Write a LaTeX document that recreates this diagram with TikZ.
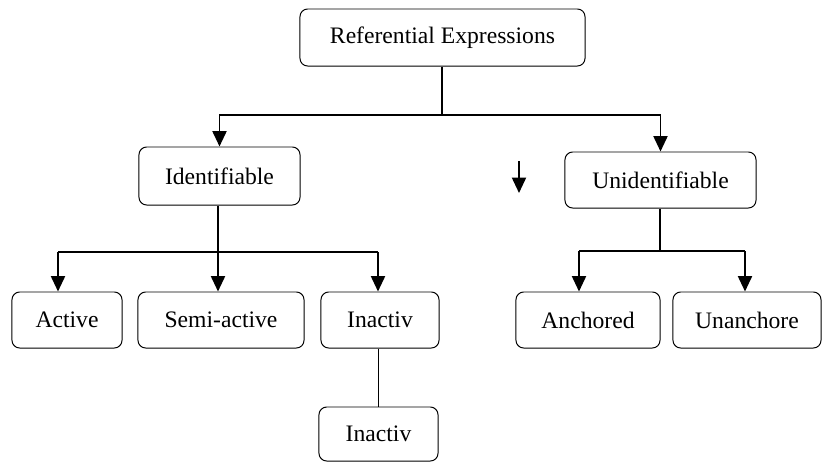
\documentclass[tikz,border=0pt]{standalone}
\usepackage{fontspec}
\setmainfont{Liberation Serif}
\usetikzlibrary{arrows.meta}

\tikzset{
  box/.style={rectangle, rounded corners=5.5pt, draw, line width=0.7pt, inner sep=0pt,
    minimum height=1.4cm, font=\fontsize{16.8}{20}\selectfont},
  bus/.style={line width=1.4pt},
  arr/.style={bus, -{Triangle[length=11pt,width=10pt]}},
}

\begin{document}
\begin{tikzpicture}[x=0.025cm, y=-0.025cm]
        \useasboundingbox (0,0) rectangle (822,462);

        \node[box, minimum width=7.125cm, minimum height=1.425cm] at (442.5,37.5) (REF) {Referential Expressions\hspace{12pt}};
        \node[box, minimum width=4.025cm, minimum height=1.45cm] at (219.5,176) (ID) {Identifiable};
        \node[box, minimum width=4.775cm] at (660.5,180) (UNID) {Unidentifiable};
        \node[box, minimum width=2.75cm] at (67,320) (ACT) {Active};
        \node[box, minimum width=4.15cm] at (221,320) (SEMI) {Semi-active};
        \node[box, minimum width=2.95cm] at (380,320) (INA) {Inactiv};
        \node[box, minimum width=2.975cm, minimum height=1.35cm] at (378.5,434) (INB) {Inactiv};
        \node[box, minimum width=3.6cm] at (588,320) (ANC) {Anchored};
        \node[box, minimum width=3.7cm] at (747,320) (UNANC) {Unanchore};

        % junctions
        \coordinate (top) at (442,115);
        \coordinate (left) at (218,252);
        \coordinate (actx) at (58,252);
        \coordinate (inax) at (378,252);
        \coordinate (right) at (660,251);
        \coordinate (ancx) at (579,251);
        \coordinate (unancx) at (745,251);
        \coordinate (lone) at (519,161);

        \draw [bus] (REF.south -| top) -- (top);
        \draw [arr] (top) -| (ID.north);
        \draw [arr] (top) -| (UNID.north);

        \draw [bus] (ID.south -| left) -- (left);
        \draw [bus] (actx) -- (inax);
        \draw [arr] (actx) -- (actx |- ACT.north);
        \draw [arr] (left) -- (left |- SEMI.north);
        \draw [arr] (inax) -- (inax |- INA.north);
        \draw [line width=0.7pt] (INA.south -| inax) -- (INB.north -| inax);

        \draw [bus] (UNID.south -| right) -- (right);
        \draw [bus] (ancx) -- (unancx);
        \draw [arr] (ancx) -- (ancx |- ANC.north);
        \draw [arr] (unancx) -- (unancx |- UNANC.north);

        \draw [arr] (lone) -- ++(0,32);

    \end{tikzpicture}
\end{document}
